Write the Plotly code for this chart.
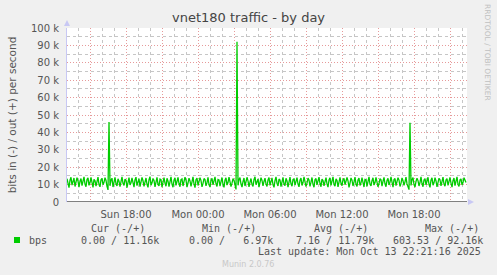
import pandas as pd
import plotly.graph_objects as go

# ---------------- data ----------------
start_time = "2025-10-12 13:05"
step_minutes = 5

out_kbps = [
    13.4, 10.1, 8.2, 12.6, 14.2, 9.7, 11.5, 13.8, 8.9, 10.8, 14.0, 12.1, 8.5, 11.9, 13.5, 9.4, 12.7, 14.4, 10.3, 8.8,
    12.9, 13.9, 9.6, 11.2, 14.1, 10.5, 8.4, 13.0, 12.2, 9.1, 11.7, 14.3, 10.0, 8.7, 12.8, 13.6, 9.9, 11.3, 14.0, 12.4,
    9.0, 6.97, 46.0, 9.3, 12.5, 13.7, 8.6, 11.8, 14.2, 10.4, 9.2, 13.3, 12.0, 8.9, 11.6, 14.5, 10.7, 9.5, 13.1, 12.6,
    8.3, 12.3, 14.0, 9.8, 11.1, 13.9, 10.6, 8.5, 12.7, 14.3, 9.4, 11.9, 13.4, 8.8, 10.9, 14.1, 12.2, 9.0, 11.4, 13.8,
    10.2, 8.4, 12.9, 14.6, 9.7, 11.0, 13.5, 12.4, 8.7, 11.7, 14.2, 10.1, 9.3, 13.2, 12.8, 8.6, 11.5, 14.0, 10.8, 9.1,
    13.6, 12.0, 8.9, 11.3, 14.4, 10.3, 8.5, 12.6, 13.9, 9.6, 11.8, 14.1, 10.6, 8.8, 12.9, 13.3, 9.2, 11.2, 14.3, 12.5,
    8.6, 10.9, 13.7, 12.1, 9.0, 11.6, 14.5, 10.4, 8.3, 12.8, 13.8, 9.5, 11.4, 14.0, 12.3, 8.7, 10.7, 13.5, 12.9, 9.3,
    11.1, 14.2, 10.0, 8.6, 12.4, 13.6, 9.8, 11.9, 14.4, 10.5, 8.9, 13.0, 12.7, 9.1, 11.5, 14.1, 10.2, 8.4, 12.6, 13.9,
    9.7, 11.2, 14.3, 12.0, 8.8, 10.8, 13.4, 12.5, 9.4, 7.2, 92.16, 9.6, 12.9, 14.0, 10.3, 8.6, 11.7, 13.8, 9.2, 11.0,
    14.2, 12.2, 8.7, 11.4, 13.5, 10.1, 9.0, 12.8, 14.5, 9.9, 11.6, 13.3, 8.5, 10.6, 14.0, 12.4, 9.3, 11.8, 13.7, 10.4,
    8.9, 12.7, 14.1, 9.6, 11.3, 13.9, 10.0, 8.4, 12.3, 14.4, 10.7, 9.2, 13.2, 12.6, 8.8, 11.5, 14.2, 10.2, 9.4, 13.6,
    12.1, 8.6, 11.0, 14.3, 10.5, 9.1, 12.9, 13.4, 9.7, 11.7, 14.0, 10.3, 8.7, 12.5, 13.8, 9.5, 11.2, 14.5, 12.0, 8.9,
    10.8, 13.7, 12.6, 9.0, 11.4, 14.1, 10.1, 8.5, 12.8, 13.5, 9.8, 11.9, 14.3, 10.6, 8.8, 13.1, 12.3, 9.3, 11.1, 14.0,
    10.4, 8.6, 12.7, 13.9, 9.6, 11.6, 14.4, 10.0, 9.1, 13.3, 12.4, 8.7, 11.3, 14.2, 10.7, 9.4, 12.9, 13.6, 9.9, 11.8,
    14.1, 12.2, 8.4, 10.9, 13.8, 12.5, 9.2, 11.5, 14.3, 10.3, 8.9, 12.6, 13.7, 9.5, 11.0, 14.0, 10.8, 8.6, 13.0, 12.8,
    9.0, 11.7, 14.5, 10.2, 9.3, 12.3, 13.9, 9.7, 11.2, 14.2, 12.0, 8.7, 10.6, 13.4, 12.7, 9.1, 11.9, 14.1, 10.5, 8.8,
    12.4, 13.6, 9.8, 11.4, 14.4, 10.1, 8.5, 12.9, 13.5, 9.4, 11.1, 14.0, 12.6, 8.9, 10.7, 13.8, 12.2, 9.6, 11.6, 14.3,
    10.4, 9.0, 7.1, 45.6, 9.5, 12.8, 14.1, 10.0, 8.6, 11.8, 13.7, 12.3, 9.2, 11.3, 14.5, 10.6, 8.8, 12.7, 13.4, 9.9,
    11.5, 14.2, 10.2, 8.4, 12.5, 13.9, 9.7, 11.0, 14.0, 12.1, 8.7, 10.9, 13.6, 12.8, 9.3, 11.7, 14.3, 10.3, 9.1, 12.6,
    13.5, 9.6, 11.4, 14.1, 10.8, 8.5, 12.2, 13.8, 9.4, 11.9, 14.4, 10.1, 8.9, 12.7, 13.3, 9.8, 11.2, 14.0, 12.4, 11.16,
]

# y tick labels (aliases for the default "10k" style labels)
y_label_alias = {"10k": "10 k", "20k": "20 k", "30k": "30 k", "40k": "40 k", "50k": "50 k",
                 "60k": "60 k", "70k": "70 k", "80k": "80 k", "90k": "90 k", "100k": "100 k"}
# x labels every 6 h; the 3 h grid positions in between stay unlabelled
x_hidden_labels = ["Sun 15:00", "Sun 21:00", "Mon 03:00", "Mon 09:00", "Mon 15:00", "Mon 21:00"]

legend_headers = ["Cur (-/+)", "Min (-/+)", "Avg (-/+)", "Max (-/+)"]
legend_values = ["0.00 / 11.16k", "0.00 /   6.97k", "7.16 / 11.79k", "603.53 / 92.16k"]
series_name = "bps"
title_text = "vnet180 traffic - by day"
y_title = "bits in (-) / out (+) per second"
last_update = "Last update: Mon Oct 13 22:21:16 2025"

# ---------------- figure ----------------
W, H = 497, 275
ML, MR, MT, MB = 67, 30, 28, 73
PW, PH = W - ML - MR, H - MT - MB


def px(x):
    return (x - ML) / PW


def py(y):
    return (H - MB - y) / PH


times = pd.date_range(start_time, periods=len(out_kbps), freq=f"{step_minutes}min")
x_end = pd.Timestamp(start_time) + pd.Timedelta(minutes=step_minutes * len(out_kbps))
y_vals = [v * 1000 for v in out_kbps]
x_range = [times[0], x_end]
y_range = [0, 100000]

GREEN = "#00cc00"
MAJOR = "#e69a9a"
MINOR = "#c6c6c6"
AXIS = "#c8c8f4"
TXT = "#555555"
DOTS = "1px,2px"
HOUR_MS = 3600000

fig = go.Figure()
fig.add_trace(go.Scatter(x=times, y=y_vals, mode="lines",
                         line=dict(color=GREEN, width=1.3), showlegend=False,
                         hoverinfo="skip"))

fig.update_layout(
    width=W, height=H,
    margin=dict(l=ML, r=MR, t=MT, b=MB, pad=0),
    paper_bgcolor="#f0f0f0", plot_bgcolor="#ffffff",
    font=dict(family="DejaVu Sans", size=10, color=TXT),
    showlegend=False,
    xaxis=dict(type="date", range=x_range,
               tickmode="linear", tick0="2025-10-12 00:00", dtick=3 * HOUR_MS,
               tickformat="%a %H:%M", labelalias={k: "" for k in x_hidden_labels},
               showgrid=True, gridcolor=MAJOR, griddash=DOTS, gridwidth=1,
               minor=dict(tickmode="linear", tick0="2025-10-12 00:00", dtick=HOUR_MS,
                          showgrid=True, gridcolor=MINOR, griddash="dot", gridwidth=1),
               ticks="outside", ticklen=3, tickcolor="rgba(0,0,0,0)",
               tickfont=dict(size=10, color=TXT),
               showline=False, zeroline=False),
    yaxis=dict(range=y_range,
               tickmode="linear", tick0=0, dtick=10000, tickformat="~s",
               labelalias=y_label_alias,
               showgrid=True, gridcolor=MAJOR, griddash=DOTS, gridwidth=1,
               minor=dict(tickmode="linear", tick0=0, dtick=5000,
                          showgrid=True, gridcolor=MINOR, griddash="dot", gridwidth=1),
               ticks="outside", ticklen=5, tickcolor="rgba(0,0,0,0)",
               tickfont=dict(size=10, color=TXT),
               showline=True, linecolor=AXIS, linewidth=1, zeroline=False,
               title=dict(text=y_title, font=dict(size=10.5, color=TXT), standoff=12)),
)

shapes = [
    dict(type="line", xref="paper", yref="y", x0=0, x1=1, y0=0, y1=0,
         line=dict(color="#000000", width=1)),
    dict(type="path", xref="paper", yref="paper",
         path=f"M {px(64)} {py(26)} L {px(70)} {py(26)} L {px(67)} {py(20)} Z",
         fillcolor=AXIS, line=dict(width=0)),
    dict(type="path", xref="paper", yref="paper",
         path=f"M {px(468)} {py(199)} L {px(468)} {py(205)} L {px(474)} {py(202)} Z",
         fillcolor=AXIS, line=dict(width=0)),
    dict(type="rect", xref="paper", yref="paper",
         x0=px(14), x1=px(20), y0=py(243), y1=py(237),
         fillcolor=GREEN, line=dict(width=0)),
]
fig.update_layout(shapes=shapes)

ann = []
ann.append(dict(text=title_text, x=px(248), y=py(18), xref="paper", yref="paper",
                showarrow=False, xanchor="center", yanchor="middle",
                font=dict(size=13, color="#444444")))
ann.append(dict(text="RRDTOOL / TOBI OETIKER", x=px(488), y=py(52), xref="paper", yref="paper",
                showarrow=False, textangle=90, xanchor="center", yanchor="middle",
                font=dict(size=7.5, color="#c0c0c0")))
MONO = "DejaVu Sans Mono"
header_x = [89.3, 200, 312.3, 422.7]
value_x = [78.7, 186.7, 294.3, 391]
for hx, h in zip(header_x, legend_headers):
    ann.append(dict(text=h, x=px(hx), y=py(228), xref="paper", yref="paper",
                    showarrow=False, xanchor="left", yanchor="middle",
                    font=dict(family=MONO, size=10, color=TXT)))
for vx, v in zip(value_x, legend_values):
    ann.append(dict(text=v.replace(" ", "&nbsp;"), x=px(vx), y=py(240), xref="paper", yref="paper",
                    showarrow=False, xanchor="left", yanchor="middle",
                    font=dict(family=MONO, size=10, color=TXT)))
ann.append(dict(text=series_name, x=px(26.7), y=py(240), xref="paper", yref="paper",
                showarrow=False, xanchor="left", yanchor="middle",
                font=dict(family=MONO, size=10, color=TXT)))
ann.append(dict(text=last_update, x=px(482.5), y=py(251.5), xref="paper", yref="paper",
                showarrow=False, xanchor="right", yanchor="middle",
                font=dict(family=MONO, size=10, color=TXT)))
ann.append(dict(text="Munin 2.0.76", x=px(248), y=py(264), xref="paper", yref="paper",
                showarrow=False, xanchor="center", yanchor="middle",
                font=dict(size=8, color="#c8c8c8")))
fig.update_layout(annotations=ann)

fig.write_html("out.html")
